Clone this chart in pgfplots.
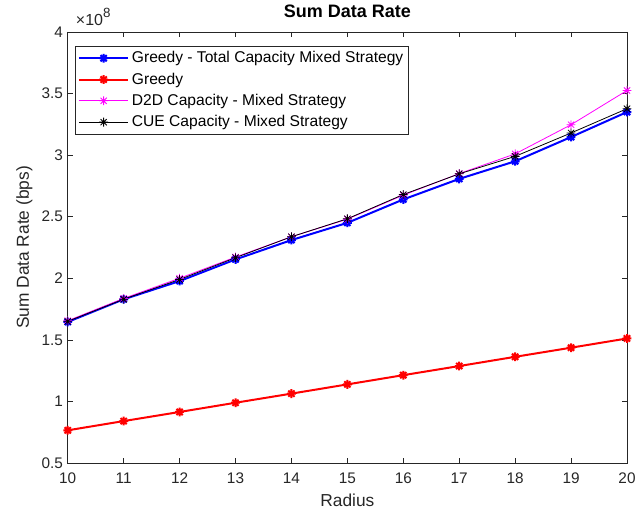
\documentclass[border=0pt]{standalone}
\usepackage{fontspec}
\setmainfont{Liberation Sans}
\usepackage{pgfplots}
\pgfplotsset{compat=1.18}

% MATLAB-like '*' marker (plus and cross)
\pgfdeclareplotmark{mstar}{%
  \pgfpathmoveto{\pgfqpoint{-\pgfplotmarksize}{0pt}}%
  \pgfpathlineto{\pgfqpoint{\pgfplotmarksize}{0pt}}%
  \pgfpathmoveto{\pgfqpoint{0pt}{-\pgfplotmarksize}}%
  \pgfpathlineto{\pgfqpoint{0pt}{\pgfplotmarksize}}%
  \pgfpathmoveto{\pgfqpoint{-0.707\pgfplotmarksize}{-0.707\pgfplotmarksize}}%
  \pgfpathlineto{\pgfqpoint{0.707\pgfplotmarksize}{0.707\pgfplotmarksize}}%
  \pgfpathmoveto{\pgfqpoint{-0.707\pgfplotmarksize}{0.707\pgfplotmarksize}}%
  \pgfpathlineto{\pgfqpoint{0.707\pgfplotmarksize}{-0.707\pgfplotmarksize}}%
  \pgfusepathqstroke}

\definecolor{axgray}{RGB}{38,38,38}
\definecolor{mag}{RGB}{255,0,255}

\begin{document}
\begin{tikzpicture}
\begin{axis}[
    name=ax,
    scale only axis, width=419.5pt, height=323.25pt,
    xmin=10, xmax=20, ymin=0.5, ymax=4,
    xtick={10,11,...,20}, ytick={0.5,1,...,4},
    tick align=inside, tick pos=both,
    major tick length=4pt,
    /pgf/number format/assume math mode=true,
    ticklabel style={font=\fontsize{11.5}{13}\selectfont, text=axgray},
    xticklabel shift=4pt,
    axis line style={axgray},
    every tick/.style={axgray},
    xlabel={Radius}, ylabel={Sum Data Rate (bps)},
    xlabel style={yshift=-1pt},
    label style={font=\fontsize{13}{15}\selectfont, text=axgray},
    title={\textbf{Sum Data Rate}},
    title style={font=\fontsize{13.5}{15}\selectfont, yshift=1pt},
    legend style={at={(0,1)}, anchor=north west, xshift=5.5pt, yshift=-10.5pt,
        font=\fontsize{11.7}{13.5}\selectfont, draw=axgray, inner sep=2pt,
        row sep=2pt, cells={anchor=west}},
    legend image code/.code={%
        \draw[mark repeat=2,mark phase=2] plot coordinates {(0cm,0cm)(0.65cm,0cm)(1.3cm,0cm)};},
]
\addplot[blue, line width=1.5pt, mark=mstar, mark size=3.3pt] coordinates {
(10,1.645) (11,1.829) (12,1.977) (13,2.153) (14,2.31) (15,2.45)
(16,2.64) (17,2.807) (18,2.95) (19,3.147) (20,3.35)};
\addlegendentry{Greedy - Total Capacity Mixed Strategy}
\addplot[red, line width=1.5pt, mark=mstar, mark size=3.3pt] coordinates {
(10,0.765) (11,0.840) (12,0.914) (13,0.989) (14,1.063) (15,1.138)
(16,1.213) (17,1.287) (18,1.362) (19,1.436) (20,1.511)};
\addlegendentry{Greedy}
\addplot[mag, line width=0.6pt, mark=mstar, mark size=3.3pt] coordinates {
(10,1.655) (11,1.836) (12,2.0) (13,2.172) (14,2.337) (15,2.48)
(16,2.675) (17,2.85) (18,3.01) (19,3.247) (20,3.525)};
\addlegendentry{D2D Capacity - Mixed Strategy}
\addplot[black, line width=0.6pt, mark=mstar, mark size=3.3pt] coordinates {
(10,1.65) (11,1.83) (12,1.99) (13,2.167) (14,2.337) (15,2.483)
(16,2.68) (17,2.848) (18,2.99) (19,3.18) (20,3.377)};
\addlegendentry{CUE Capacity - Mixed Strategy}
\end{axis}
\node[anchor=base west, font=\fontsize{12}{14}\selectfont, text=axgray, inner sep=0pt]
    at ([xshift=6pt,yshift=5pt]ax.north west)
    {×10\raisebox{0.5em}{\fontsize{10}{11}\selectfont 8}};
\pgfresetboundingbox
\path[use as bounding box] ([xshift=-50.8pt,yshift=-42.75pt]ax.south west)
    rectangle ([xshift=6pt,yshift=24pt]ax.north east);
\end{tikzpicture}
\end{document}
